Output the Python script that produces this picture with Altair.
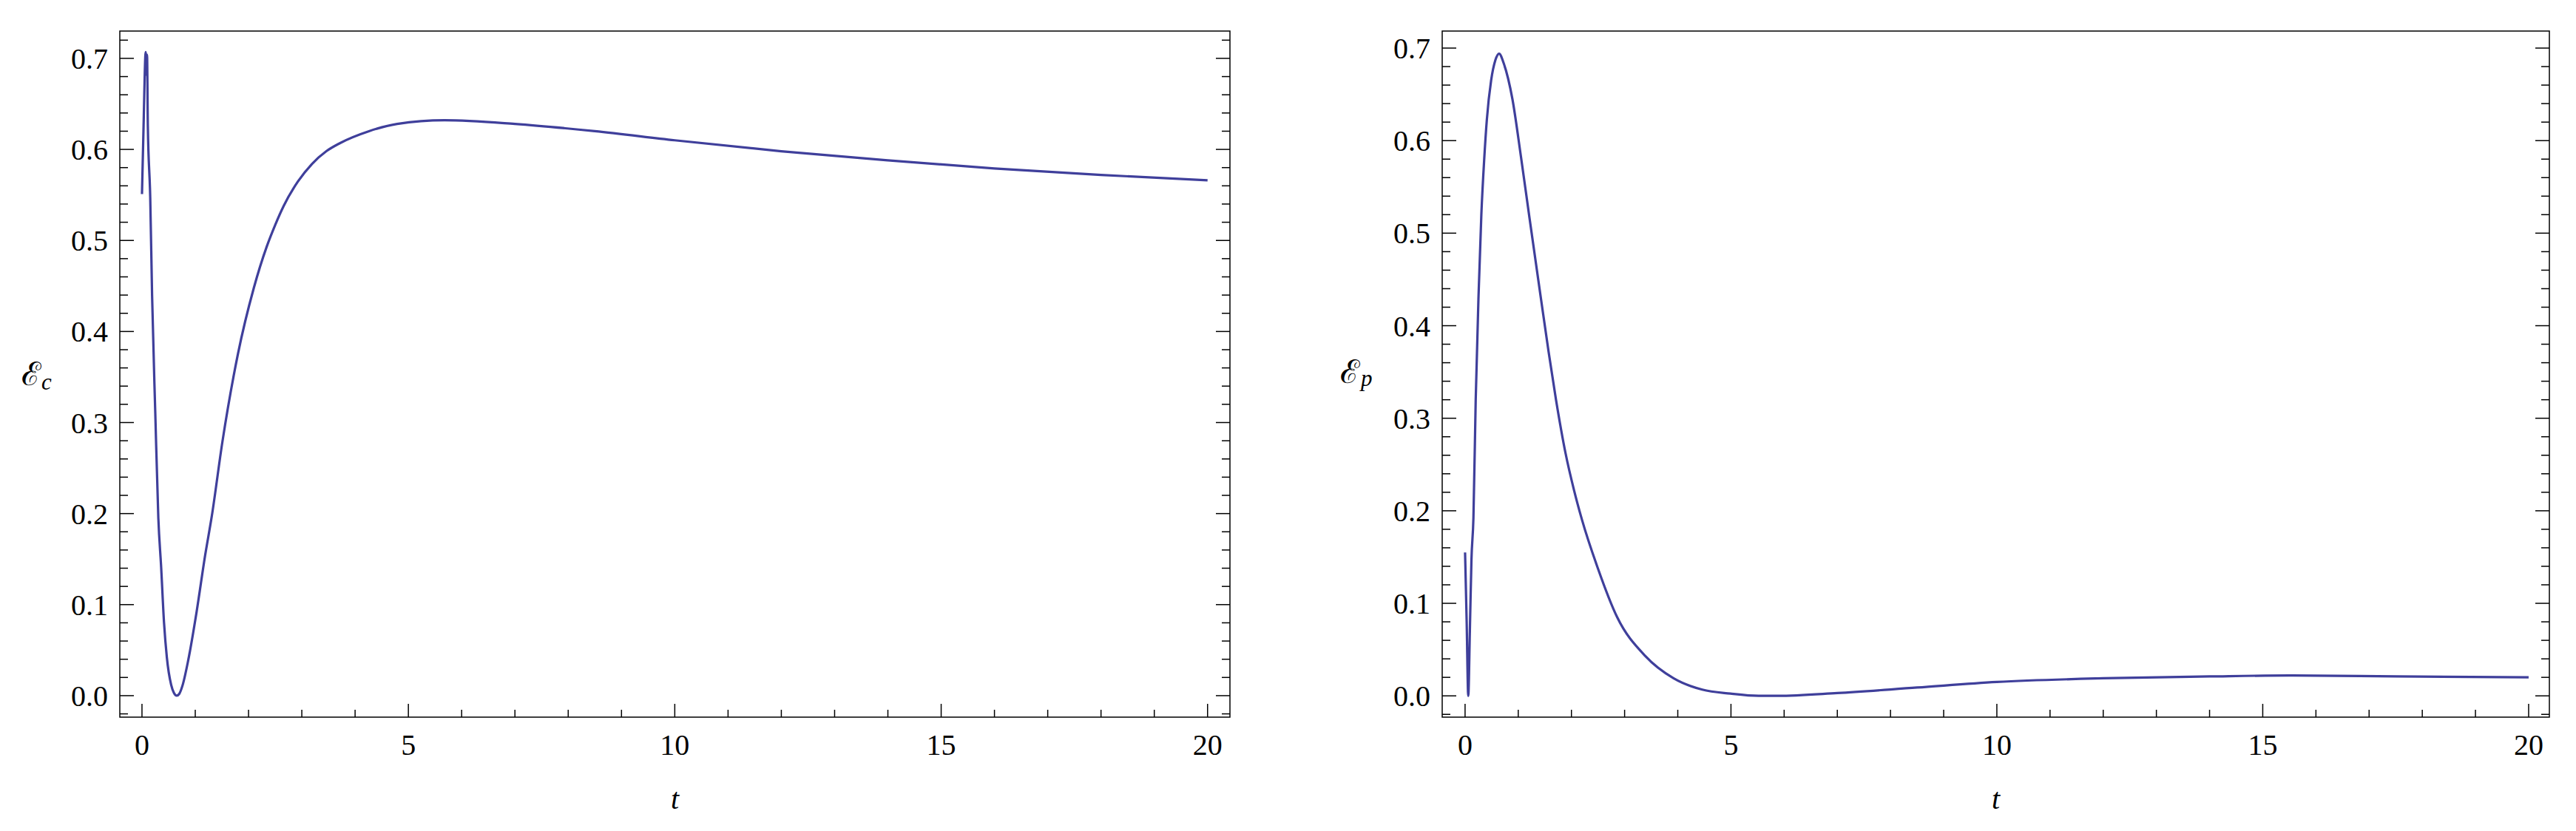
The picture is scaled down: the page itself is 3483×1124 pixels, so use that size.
import altair as alt
import pandas as pd

# ---- data ----
t_c = [0, 0.03, 0.07, 0.08, 0.095, 0.11, 0.155, 0.19, 0.25, 0.307, 0.36, 0.414, 0.467,
       0.547, 0.6, 0.653, 0.7, 0.76, 0.865, 1.025, 1.185, 1.31, 1.51, 1.8, 2.1, 2.34,
       2.5, 2.66, 2.93, 3.19, 3.46, 3.72, 4.26, 4.79, 5.68, 7.0, 8.5, 10.0, 12.0, 14.0,
       16.0, 18.0, 20.0]
eps_c = [0.551, 0.626, 0.707, 0.682, 0.704, 0.626, 0.547, 0.439, 0.31, 0.195, 0.141, 0.08,
         0.042, 0.012, 0.003, 0.0, 0.002, 0.011, 0.038, 0.092, 0.154, 0.197, 0.279, 0.375,
         0.448, 0.493, 0.517, 0.538, 0.565, 0.584, 0.598, 0.607, 0.62, 0.628, 0.632, 0.628,
         0.62, 0.61, 0.598, 0.588, 0.579, 0.572, 0.566]

t_p = [0, 0.03, 0.06, 0.09, 0.12, 0.157, 0.2, 0.253, 0.306, 0.36, 0.41, 0.49, 0.57, 0.64,
       0.73, 0.89, 1.05, 1.21, 1.42, 1.57, 1.71, 1.89, 2.05, 2.2, 2.49, 2.86, 3.39, 3.92,
       4.46, 4.99, 5.52, 5.88, 7.0, 8.5, 10.0, 12.0, 14.0, 15.5, 17.5, 20.0]
eps_p = [0.155, 0.08, 0.0, 0.07, 0.147, 0.192, 0.32, 0.432, 0.52, 0.58, 0.623, 0.665,
         0.687, 0.694, 0.683, 0.645, 0.583, 0.517, 0.432, 0.372, 0.32, 0.262, 0.222, 0.19,
         0.139, 0.085, 0.043, 0.019, 0.0067, 0.0024, 0.0, 0.0, 0.003, 0.009, 0.015, 0.019,
         0.021, 0.022, 0.021, 0.02]

x_major = [0, 5, 10, 15, 20]
x_major_labels = ["0", "5", "10", "15", "20"]
x_minor = [v for v in range(1, 20) if v % 5 != 0]
y_major = [0.0, 0.1, 0.2, 0.3, 0.4, 0.5, 0.6, 0.7]
y_major_labels = ["0.0", "0.1", "0.2", "0.3", "0.4", "0.5", "0.6", "0.7"]
y_minor_all = [round(-0.02 + 0.02 * i, 2) for i in range(0, 38)]

LINE_COLOR = "#3f3f9b"
FONT = "Liberation Serif"
H = 928


def panel(t, v, xdom, ydom, W, main, sub, main_x, main_y, sub_x, sub_y):
    xs = alt.Scale(domain=xdom, nice=False, zero=False)
    ys = alt.Scale(domain=ydom, nice=False, zero=False)
    df = pd.DataFrame({"t": t, "v": v})
    line = alt.Chart(df).mark_line(color=LINE_COLOR, strokeWidth=3.2,
                                   interpolate="monotone").encode(
        x=alt.X("t:Q", scale=xs, axis=None),
        y=alt.Y("v:Q", scale=ys, axis=None),
        order="t:Q",
    )
    ymin = [m for m in y_minor_all
            if ydom[0] <= m <= ydom[1] and round(m * 10, 6) != round(m * 10)]
    ymaj = pd.DataFrame({"v": y_major, "lab": y_major_labels})
    ymn = pd.DataFrame({"v": ymin})
    xmaj = pd.DataFrame({"t": x_major, "lab": x_major_labels})
    xmn = pd.DataFrame({"t": x_minor})
    rule = dict(color="black", strokeWidth=1.5)
    layers = [line]
    for d, ln in ((ymaj, 19), (ymn, 11)):
        layers.append(alt.Chart(d).mark_rule(**rule).encode(
            y=alt.Y("v:Q", scale=ys, axis=None), x=alt.value(0), x2=alt.value(ln)))
        layers.append(alt.Chart(d).mark_rule(**rule).encode(
            y=alt.Y("v:Q", scale=ys, axis=None), x=alt.value(W), x2=alt.value(W - ln)))
    for d, ln in ((xmaj, 18), (xmn, 10)):
        layers.append(alt.Chart(d).mark_rule(**rule).encode(
            x=alt.X("t:Q", scale=xs, axis=None), y=alt.value(H), y2=alt.value(H - ln)))
    # tick labels
    layers.append(alt.Chart(ymaj).mark_text(
        font=FONT, fontSize=40, align="right", baseline="alphabetic", dy=14,
        color="black").encode(
        y=alt.Y("v:Q", scale=ys, axis=None), x=alt.value(-16), text="lab:N"))
    layers.append(alt.Chart(xmaj).mark_text(
        font=FONT, fontSize=40, align="center", baseline="alphabetic",
        color="black").encode(
        x=alt.X("t:Q", scale=xs, axis=None), y=alt.value(H + 51), text="lab:N"))
    one = pd.DataFrame({"a": [0]})
    layers.append(alt.Chart(one).mark_text(
        text=main, font="DejaVu Serif", fontSize=44, align="left",
        baseline="alphabetic", color="black").encode(
        x=alt.value(main_x), y=alt.value(main_y)))
    layers.append(alt.Chart(one).mark_text(
        text=sub, font=FONT, fontStyle="italic", fontSize=31, align="left",
        baseline="alphabetic", color="black").encode(
        x=alt.value(sub_x), y=alt.value(sub_y)))
    layers.append(alt.Chart(one).mark_text(
        text="t", font=FONT, fontStyle="italic", fontSize=40, align="center",
        baseline="middle", color="black").encode(
        x=alt.value(W / 2), y=alt.value(H + 112)))
    return alt.layer(*layers).properties(width=W, height=H)


left = panel(t_c, eps_c, [-0.416, 20.42], [-0.0236, 0.730], 1501,
             "ℰ", "c", -133, 479, -106, 485)
right = panel(t_p, eps_p, [-0.43, 20.39], [-0.023, 0.7184], 1497,
              "ℰ", "p", -138, 476, -110, 480)

chart = alt.hconcat(left, right, spacing=146).properties(
    padding={"left": 20, "top": 33, "right": 0, "bottom": 0},
    background="white",
).configure_view(stroke="black", strokeWidth=1.5)

chart.save("out.html", embed_options={"renderer": "svg", "actions": False})
